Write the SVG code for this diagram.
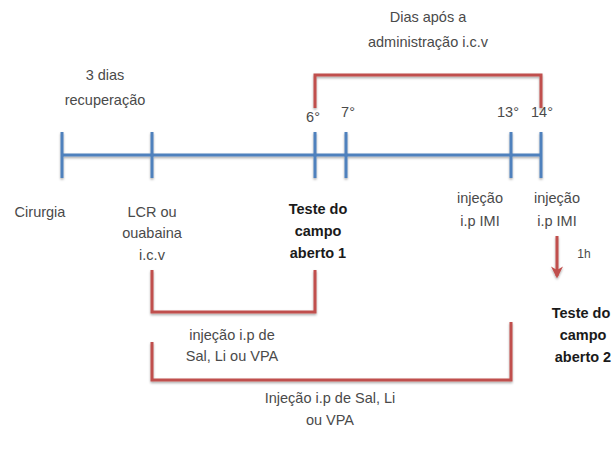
<svg xmlns="http://www.w3.org/2000/svg" width="614" height="454" viewBox="0 0 614 454">
<defs>
<filter id="sh" x="-10%" y="-10%" width="120%" height="130%">
<feDropShadow dx="0" dy="1.5" stdDeviation="1" flood-color="#000" flood-opacity="0.35"/>
</filter>
<marker id="ah" viewBox="0 0 10 10" refX="8" refY="5" markerWidth="4" markerHeight="4" orient="auto" markerUnits="strokeWidth">
<path d="M0,0 L10,5 L0,10 L3,5 z" fill="#c0504d"/>
</marker>
<style>
text{font-family:"Liberation Sans",Arial,sans-serif;font-size:14.5px;fill:#4a4a4a;text-anchor:middle}
.b{font-weight:bold;fill:#1a1a1a}
.blue{stroke:#4f81bd;stroke-width:3;fill:none}
.red{stroke:#c0504d;stroke-width:3;fill:none}
</style>
</defs>
<g id="connectors">
<g filter="url(#sh)">
<line class="blue" x1="62" y1="155" x2="541" y2="155"/>
<line class="blue" x1="62" y1="132" x2="62" y2="178"/>
<line class="blue" x1="152" y1="132" x2="152" y2="178"/>
<line class="blue" x1="315" y1="132" x2="315" y2="178"/>
<line class="blue" x1="346" y1="132" x2="346" y2="178"/>
<line class="blue" x1="511" y1="132" x2="511" y2="178"/>
<line class="blue" x1="541" y1="132" x2="541" y2="178"/>
<path class="red" d="M315,108 V75 H541 V108"/>
<path class="red" d="M152,270 V312 H315 V270"/>
<path class="red" d="M152,342 V380 H511 V322"/>
<line class="red" x1="557" y1="236" x2="557" y2="276" marker-end="url(#ah)"/>
</g>
</g>
<g id="top-label"><text x="428" y="22">Dias após  a</text><text x="428" y="47">administração i.c.v</text></g>
<g id="recup"><text x="105" y="80">3 dias</text><text x="105" y="105">recuperação</text></g>
<g id="days"><text x="313" y="122">6°</text><text x="348" y="117">7°</text><text x="508" y="117">13°</text><text x="542" y="117">14°</text></g>
<g id="cirurgia"><text x="40" y="217">Cirurgia</text></g>
<g id="lcr"><text x="152" y="217">LCR ou</text><text x="152" y="238">ouabaina</text><text x="152" y="260">i.c.v</text></g>
<g id="teste1"><text class="b" x="318" y="214">Teste do</text><text class="b" x="318" y="236">campo</text><text class="b" x="318" y="258">aberto 1</text></g>
<g id="inj13"><text x="480" y="203">injeção</text><text x="480" y="226">i.p IMI</text></g>
<g id="inj14"><text x="557" y="203">injeção</text><text x="557" y="226">i.p IMI</text></g>
<g id="h1"><text x="584" y="258" style="font-size:12px">1h</text></g>
<g id="teste2"><text class="b" x="581" y="318">Teste do</text><text class="b" x="583" y="340">campo</text><text class="b" x="583" y="362">aberto 2</text></g>
<g id="inj-a"><text x="232" y="340">injeção i.p  de</text><text x="232" y="361">Sal, Li ou VPA</text></g>
<g id="inj-b"><text x="330" y="403">Injeção i.p  de Sal, Li</text><text x="330" y="425">ou VPA</text></g>
</svg>
